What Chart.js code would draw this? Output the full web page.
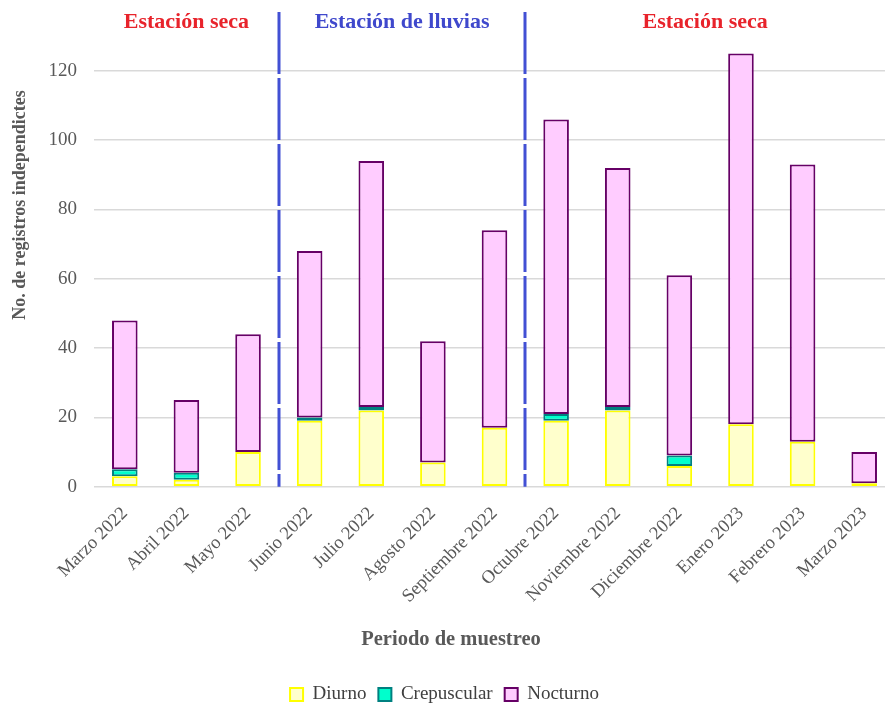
<!DOCTYPE html>
<html>
<head>
<meta charset="utf-8">
<script src="https://cdn.jsdelivr.net/npm/chart.js@4/dist/chart.umd.min.js"></script>
<style>
  html, body { margin: 0; padding: 0; background: #fff; }
  #wrap { width: 885px; height: 704px; }
</style>
</head>
<body>
<div id="wrap"><canvas id="chart" width="885" height="704"></canvas></div>
<script>
const months = ['Marzo 2022', 'Abril 2022', 'Mayo 2022', 'Junio 2022', 'Julio 2022', 'Agosto 2022',
  'Septiembre 2022', 'Octubre 2022', 'Noviembre 2022', 'Diciembre 2022', 'Enero 2023', 'Febrero 2023', 'Marzo 2023'];
const diurno = [3, 2, 10, 19, 22, 7, 17, 19, 22, 6, 18, 13, 1];
const crepuscular = [2, 2, 0, 1, 1, 0, 0, 2, 1, 3, 0, 0, 0];
const nocturno = [43, 21, 34, 48, 71, 35, 57, 85, 69, 52, 107, 80, 9];
const yTicks = [0, 20, 40, 60, 80, 100, 120];

// season bands: label, colour, first and last month index
const seasons = [
  { label: 'Estación seca', color: '#e8232b', from: 0, to: 2 },
  { label: 'Estación de lluvias', color: '#3f48cc', from: 3, to: 6 },
  { label: 'Estación seca', color: '#e8232b', from: 7, to: 12 }
];

const serif = '"Liberation Serif", "Times New Roman", serif';
const grey = '#595959';
const yTitle = 'No. de registros independictes';
const xTitle = 'Periodo de muestreo';

// the original plot runs a little past the right edge of the picture
const widenPlot = {
  id: 'widen',
  afterLayout(chart) {
    const x = chart.scales.x;
    x.right += 10;
    x.width += 10;
    chart.chartArea.right += 10;
    chart.chartArea.width += 10;
    x.configure();
  }
};

const seasonPlugin = {
  id: 'seasons',
  afterDatasetsDraw(chart) {
    const { ctx, chartArea, scales: { x } } = chart;
    const edge = i => (x.getPixelForValue(i) + x.getPixelForValue(i + 1)) / 2;
    ctx.save();
    // dashed dividers between seasons
    ctx.strokeStyle = '#4250d4';
    ctx.lineWidth = 3;
    ctx.setLineDash([62, 4]);
    seasons.slice(0, -1).forEach(s => {
      const px = Math.round(edge(s.to));
      ctx.beginPath();
      ctx.moveTo(px, chartArea.top);
      ctx.lineTo(px, chartArea.bottom);
      ctx.stroke();
    });
    ctx.setLineDash([]);
    ctx.font = 'bold 22px ' + serif;
    ctx.textAlign = 'center';
    ctx.textBaseline = 'middle';
    seasons.forEach(s => {
      const l = s.from === 0 ? chartArea.left : edge(s.from - 1);
      const r = s.to === months.length - 1 ? Math.min(chartArea.right, chart.width) : edge(s.to);
      ctx.fillStyle = s.color;
      ctx.fillText(s.label, (l + r) / 2, 22);
    });
    // x title centred on the page, not on the axis
    ctx.font = 'bold 20.5px ' + serif;
    ctx.fillStyle = grey;
    ctx.fillText(xTitle, 451, 640);
    // y axis title, sits above the middle of the plot in the original
    ctx.translate(20, 205);
    ctx.rotate(-Math.PI / 2);
    ctx.font = 'bold 18px ' + serif;
    ctx.fillText(yTitle, 0, 0);
    ctx.restore();
  }
};

const nz = arr => arr.map(v => (v === 0 ? null : v));

const barStyle = { borderWidth: 2, borderSkipped: false, barPercentage: 0.415, categoryPercentage: 1 };

new Chart(document.getElementById('chart'), {
  type: 'bar',
  data: {
    labels: months,
    datasets: [
      { label: 'Diurno', data: nz(diurno), backgroundColor: '#ffffcc', borderColor: '#ffff00', ...barStyle },
      { label: 'Crepuscular', data: nz(crepuscular), backgroundColor: '#00ffcc', borderColor: '#008080', ...barStyle },
      { label: 'Nocturno', data: nz(nocturno), backgroundColor: '#ffccff', borderColor: '#660066', ...barStyle }
    ]
  },
  options: {
    responsive: false,
    animation: false,
    devicePixelRatio: 1,
    layout: { padding: { top: 12, right: 0, left: 4, bottom: -10 } },
    plugins: {
      tooltip: { enabled: false },
      legend: {
        position: 'bottom',
        labels: {
          font: { family: serif, size: 19 },
          color: '#404040',
          boxWidth: 13,
          boxHeight: 13,
          padding: 12
        }
      }
    },
    scales: {
      x: {
        stacked: true,
        grid: { display: false },
        border: { display: false },
        afterFit: s => { s.paddingLeft = 0; s.paddingRight = 0; },
        ticks: {
          font: { family: serif, size: 18.5 },
          color: grey,
          maxRotation: 45,
          minRotation: 45,
          padding: 8
        },
        // kept for spacing only, the visible title is drawn by seasonPlugin
        title: {
          display: true,
          text: xTitle,
          font: { family: serif, size: 20.5, weight: 'bold' },
          color: 'rgba(0,0,0,0)',
          padding: { top: 14, bottom: 19 }
        }
      },
      y: {
        stacked: true,
        min: 0,
        max: 137,
        afterBuildTicks: s => { s.ticks = yTicks.map(v => ({ value: v })); },
        afterFit: s => { s.width = 90; s.paddingTop = 0; s.paddingBottom = 0; },
        grid: { color: '#d9d9d9', lineWidth: 1.5, drawTicks: false },
        border: { display: false },
        ticks: {
          font: { family: serif, size: 19 },
          color: grey,
          padding: 17
        }
      }
    }
  },
  plugins: [widenPlot, seasonPlugin]
});
</script>
</body>
</html>
